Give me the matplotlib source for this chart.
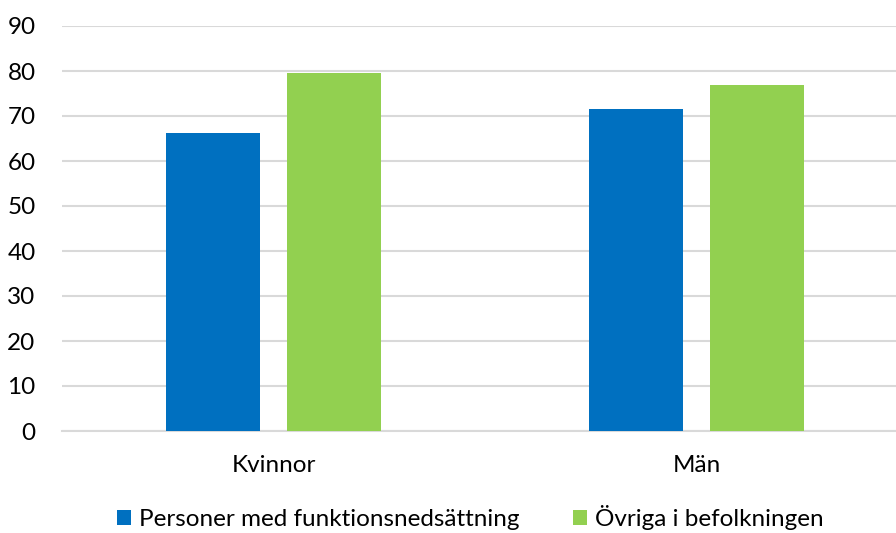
import matplotlib
matplotlib.use("Agg")
import matplotlib.pyplot as plt
import numpy as np

categories = ["Kvinnor", "Män"]
series_names = ["Personer med funktionsnedsättning", "Övriga i befolkningen"]
funktion_values = [66.2, 71.6]
ovriga_values = [79.6, 76.8]
y_ticks = [0, 10, 20, 30, 40, 50, 60, 70, 80, 90]

plt.rcParams['font.family'] = ['Lato', 'DejaVu Sans']

fig = plt.figure(figsize=(8.96, 5.33), dpi=100)
# axes: left 62px, right 908px, bottom y=431, top y=26
W, H = 896, 533
ax = fig.add_axes([62 / W, (H - 431) / H, (908 - 62) / W, (431 - 26) / H])

x = np.arange(len(categories))
bw = 0.224
off = 0.143
ax.bar(x - off, funktion_values, bw, color="#0070C0", label=series_names[0], zorder=3)
ax.bar(x + off, ovriga_values, bw, color="#92D050", label=series_names[1], zorder=3)

ax.set_xlim(-0.5, 1.5)
ax.set_ylim(0, 90)
ax.set_yticks(y_ticks)
ax.set_yticklabels([str(t) for t in y_ticks])
ax.set_xticks(x)
ax.set_xticklabels(categories)
ax.grid(axis='y', color="#d9d9d9", linewidth=1.5, zorder=0)
for s in ["top", "right", "left"]:
    ax.spines[s].set_visible(False)
ax.spines["bottom"].set_color("#d9d9d9")
ax.spines["bottom"].set_linewidth(1.5)
ax.tick_params(axis='y', length=0, pad=19, labelsize=17.5, colors="#000000")
ax.tick_params(axis='x', length=0, pad=17, labelsize=17.5, colors="#000000")

leg = fig.legend(loc="lower center", bbox_to_anchor=(470 / W, -0.036), ncol=2, frameon=False,
                 fontsize=17.5, handlelength=0.57, handleheight=0.57, handletextpad=0.33,
                 columnspacing=2.2)

fig.savefig("out.png", dpi=100)
